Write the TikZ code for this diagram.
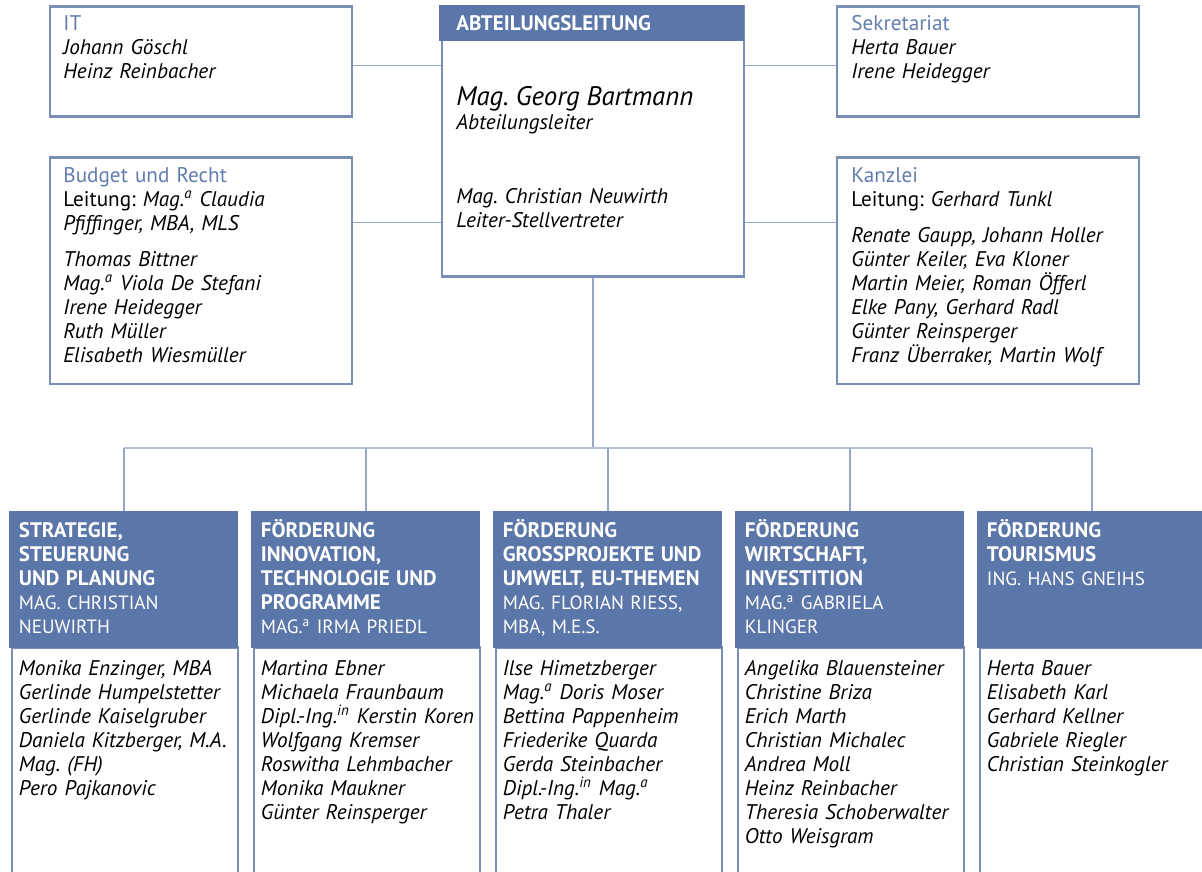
\documentclass[tikz,border=0pt]{standalone}
\usepackage{fontspec}
\setmainfont{PT Sans}
\usetikzlibrary{positioning}
\definecolor{headblue}{RGB}{91,118,168}
\definecolor{boxline}{RGB}{122,143,181}
\definecolor{connline}{RGB}{150,168,200}
\definecolor{busblue}{RGB}{180,194,216}
\definecolor{titleblue}{RGB}{100,125,175}
\frenchspacing
\newcommand{\fl}{\rule{0pt}{10pt}}
\newcommand{\sa}{\textsuperscript{a}}
\newcommand{\si}{\textsuperscript{in}}
\newcommand{\hb}[1]{{\fontsize{10.5}{12}\selectfont\bfseries #1}}
\tikzstyle{unit} = [draw=boxline, line width=1.4pt, fill=white, rectangle,
    inner sep=0pt, anchor=north west, minimum width=151pt]
\tikzstyle{headbar} = [fill=headblue, rectangle, inner sep=0pt, anchor=north west,
    minimum width=114.5pt, minimum height=68.5pt]
\tikzstyle{body} = [draw=boxline, line width=1.4pt, fill=white, rectangle, inner sep=0pt,
    anchor=north west, minimum width=113pt, minimum height=130pt]
\tikzstyle{txt} = [anchor=north west, inner sep=0pt, text width=150pt, align=left,
    font=\fontsize{10.6}{12}\selectfont]
\tikzstyle{htxt} = [txt, text=white, font=\fontsize{9.6}{12}\selectfont]
\tikzstyle{conn} = [draw=connline, line width=0.6pt]
\tikzstyle{busline} = [draw=busblue, line width=1pt]

\begin{document}
\begin{tikzpicture}[x=0.5pt,y=-0.5pt]
\useasboundingbox (0,0) rectangle (1202,871);
\clip (0,0) rectangle (1202,871);

% top row
\node[unit, minimum height=55pt] (it) at (48.5,5.5) {};
\node[unit, minimum height=113pt] (budget) at (48.5,156.5) {};
\node[unit, minimum height=135pt] (lead) at (440.5,5.5) {};
\node[headbar, minimum width=152.5pt, minimum height=18pt] (leadhead) at (439,5) {};
\node[unit, minimum height=55pt] (sek) at (835.5,5.5) {};
\node[unit, minimum height=113pt] (kanz) at (835.5,156.5) {};

\draw[conn] ([yshift=-2pt]it.east) -- ([yshift=-2pt]it.east -| lead.west);
\draw[conn] ([yshift=24pt]budget.east) -- ([yshift=24pt]budget.east -| lead.west);
\draw[conn] ([yshift=-2pt]sek.west) -- ([yshift=-2pt]sek.west -| lead.east);
\draw[conn] ([yshift=24pt]kanz.west) -- ([yshift=24pt]kanz.west -| lead.east);

\node[txt] (ittext) at (63,10) {\fl\textcolor{titleblue}{IT}\\
  \itshape Johann Göschl\\Heinz Reinbacher};
\node[txt] (budgettext) at (63,162) {\fl\textcolor{titleblue}{Budget und Recht}\\
  Leitung: \itshape Mag.\sa{} Claudia\\Pfiffinger, MBA, MLS\\[6pt]
  Thomas Bittner\\Mag.\sa{} Viola De Stefani\\Irene Heidegger\\Ruth Müller\\Elisabeth Wiesmüller};
\node[htxt] (leadtitle) at (456,10) {\fl\hb{ABTEILUNGSLEITUNG}};
\node[txt] (leadtext) at (456,85) {\fl\itshape{\fontsize{13.4}{12}\selectfont Mag. Georg Bartmann}\\
  Abteilungsleiter\\[25pt]
  Mag. Christian Neuwirth\\Leiter-Stellvertreter};
\node[txt] (sektext) at (851,10) {\fl\textcolor{titleblue}{Sekretariat}\\
  \itshape Herta Bauer\\Irene Heidegger};
\node[txt] (kanztext) at (851,162) {\fl\textcolor{titleblue}{Kanzlei}\\
  Leitung: \itshape Gerhard Tunkl\\[6pt]
  Renate Gaupp, Johann Holler\\Günter Keiler, Eva Kloner\\Martin Meier, Roman Öfferl\\
  Elke Pany, Gerhard Radl\\Günter Reinsperger\\Franz Überraker, Martin Wolf};

% bottom row
\node[body] (body1) at (10.5,646) {};
\node[body] (body2) at (252.5,646) {};
\node[body] (body3) at (494.5,646) {};
\node[body] (body4) at (736.5,646) {};
\node[body] (body5) at (978.5,646) {};
\node[headbar] (col1) at (9,511) {};
\node[headbar] (col2) at (251,511) {};
\node[headbar] (col3) at (493,511) {};
\node[headbar] (col4) at (735,511) {};
\node[headbar] (col5) at (977,511) {};

\coordinate (bus) at (590,448);
\draw[conn] (lead.south) -- (lead.south |- bus);
\draw[busline] (col1.north |- bus) -- (col5.north |- bus);
\draw[conn] (col1.north |- bus) -- (col1.north);
\draw[conn] (col2.north |- bus) -- (col2.north);
\draw[conn] (col3.north |- bus) -- (col3.north);
\draw[conn] (col4.north |- bus) -- (col4.north);
\draw[conn] (col5.north |- bus) -- (col5.north);

\node[htxt] (head1) at (18.5,517) {\fl\hb{STRATEGIE,\\STEUERUNG\\UND PLANUNG}\\
  MAG. CHRISTIAN\\NEUWIRTH};
\node[htxt] (head2) at (260.5,517) {\fl\hb{FÖRDERUNG\\INNOVATION,\\TECHNOLOGIE UND\\PROGRAMME}\\
  MAG.\sa{} IRMA PRIEDL};
\node[htxt] (head3) at (502.5,517) {\fl\hb{FÖRDERUNG\\GROSSPROJEKTE UND\\UMWELT, EU-THEMEN}\\
  MAG. FLORIAN RIESS,\\MBA, M.E.S.};
\node[htxt] (head4) at (744.5,517) {\fl\hb{FÖRDERUNG\\WIRTSCHAFT,\\INVESTITION}\\
  MAG.\sa{} GABRIELA\\KLINGER};
\node[htxt] (head5) at (986.5,517) {\fl\hb{FÖRDERUNG\\TOURISMUS}\\
  ING. HANS GNEIHS};

\node[txt] (names1) at (18.5,655) {\fl\itshape Monika Enzinger, MBA\\Gerlinde Humpelstetter\\
  Gerlinde Kaiselgruber\\Daniela Kitzberger, M.A.\\Mag. (FH)\\Pero Pajkanovic};
\node[txt] (names2) at (260.5,655) {\fl\itshape Martina Ebner\\Michaela Fraunbaum\\
  Dipl.-Ing.\si{} Kerstin Koren\\Wolfgang Kremser\\Roswitha Lehmbacher\\Monika Maukner\\
  Günter Reinsperger};
\node[txt] (names3) at (502.5,655) {\fl\itshape Ilse Himetzberger\\Mag.\sa{} Doris Moser\\
  Bettina Pappenheim\\Friederike Quarda\\Gerda Steinbacher\\Dipl.-Ing.\si{} Mag.\sa\\
  Petra Thaler};
\node[txt] (names4) at (744.5,655) {\fl\itshape Angelika Blauensteiner\\Christine Briza\\
  Erich Marth\\Christian Michalec\\Andrea Moll\\Heinz Reinbacher\\Theresia Schoberwalter\\
  Otto Weisgram};
\node[txt] (names5) at (986.5,655) {\fl\itshape Herta Bauer\\Elisabeth Karl\\Gerhard Kellner\\
  Gabriele Riegler\\Christian Steinkogler};

\end{tikzpicture}
\end{document}
